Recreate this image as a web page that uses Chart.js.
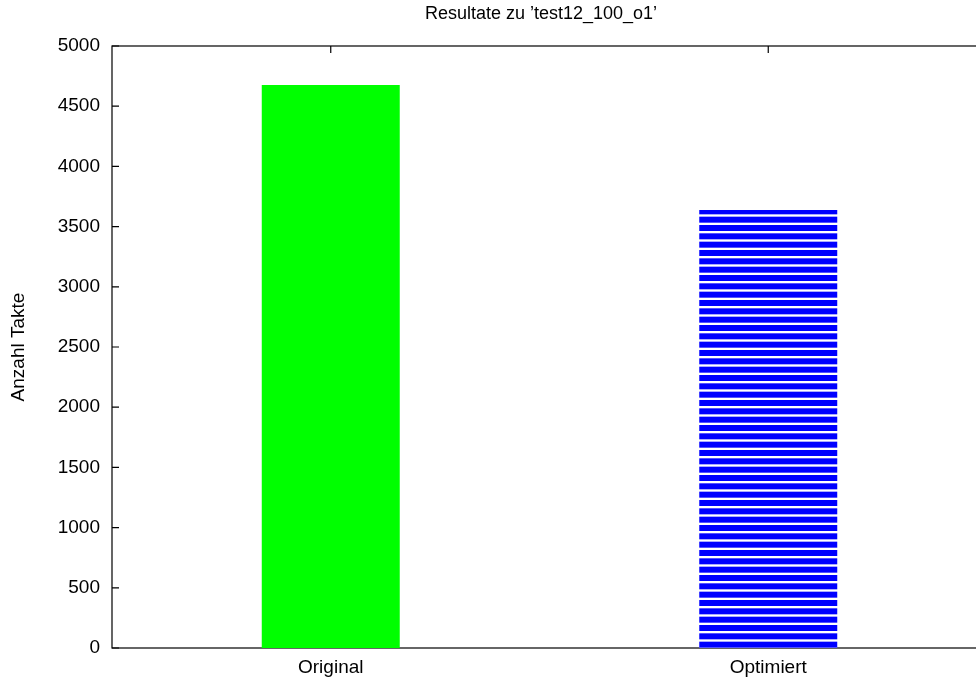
<!DOCTYPE html>
<html lang="de">
<head>
<meta charset="utf-8">
<title>Resultate zu 'test12_100_o1'</title>
<script src="https://cdn.jsdelivr.net/npm/chart.js@4.4.0/dist/chart.umd.min.js"></script>
<style>
  html, body { margin: 0; padding: 0; background: #fff; overflow: hidden; }
  #wrap { width: 987px; height: 679px; }
</style>
</head>
<body>
<div id="wrap"><canvas id="myChart" width="987" height="679"></canvas></div>
<script>
// data
var categories = ['Original', 'Optimiert'];
var takte = [4676, 3638];
var yTicks = [0, 500, 1000, 1500, 2000, 2500, 3000, 3500, 4000, 4500, 5000];
var titleText = 'Resultate zu \u2019test12_100_o1\u2019';
var yTitle = 'Anzahl Takte';

var FONT = "'Liberation Sans', Arial, sans-serif";

// horizontal blue stripes like the gnuplot fill pattern
function stripes() {
  var c = document.createElement('canvas');
  c.width = 4; c.height = 25;
  var g = c.getContext('2d');
  g.fillStyle = '#fff';
  g.fillRect(0, 0, 4, 25);
  g.fillStyle = '#0000ff';
  for (var k = 0; k < 3; k++) g.fillRect(0, k * 25 / 3, 4, 6);
  return g.createPattern(c, 'repeat');
}

// frame + inward ticks, gnuplot style
var frame = {
  id: 'frame',
  beforeDatasetsDraw: function(chart) {
    var ctx = chart.ctx, a = chart.chartArea;
    var x = chart.scales.x, y = chart.scales.y;
    ctx.save();
    ctx.strokeStyle = '#000';
    ctx.lineWidth = 1.2;
    ctx.strokeRect(a.left, a.top, a.right - a.left, a.bottom - a.top);
    ctx.beginPath();
    yTicks.forEach(function(v) {
      var py = y.getPixelForValue(v);
      ctx.moveTo(a.left, py); ctx.lineTo(a.left + 7, py);
      ctx.moveTo(a.right, py); ctx.lineTo(a.right - 7, py);
    });
    categories.forEach(function(c, i) {
      var px = x.getPixelForValue(i);
      ctx.moveTo(px, a.bottom); ctx.lineTo(px, a.bottom - 7);
      ctx.moveTo(px, a.top); ctx.lineTo(px, a.top + 7);
    });
    ctx.stroke();
    ctx.restore();
  },
  afterDraw: function(chart) {
    var ctx = chart.ctx;
    ctx.save();
    ctx.fillStyle = '#000';
    ctx.font = '18px ' + FONT;
    ctx.textAlign = 'center';
    ctx.textBaseline = 'middle';
    ctx.fillText(titleText, 541, 14);
    ctx.restore();
  }
};

var myChart = new Chart(document.getElementById('myChart'), {
  type: 'bar',
  data: {
    labels: categories,
    datasets: [{
      data: takte,
      backgroundColor: ['#00ff00', stripes()],
      borderWidth: 0,
      categoryPercentage: 1,
      barPercentage: 0.3154
    }]
  },
  options: {
    responsive: false,
    animation: false,
    layout: { padding: { top: 46, left: 0, right: 0, bottom: 0 } },
    plugins: { legend: { display: false }, tooltip: { enabled: false }, title: { display: false } },
    scales: {
      x: {
        offset: true,
        grid: { display: false, drawTicks: false, tickLength: 0 },
        border: { display: false },
        ticks: { color: '#000', font: { family: FONT, size: 19 }, padding: 8, maxRotation: 0 },
        afterFit: function(s) { s.height = 31; }
      },
      y: {
        min: 0,
        max: 5000,
        grid: { display: false, drawTicks: false, tickLength: 0 },
        border: { display: false },
        afterBuildTicks: function(s) { s.ticks = yTicks.map(function(v) { return { value: v }; }); },
        ticks: { color: '#000', font: { family: FONT, size: 19 }, padding: 12, callback: function(v) { return String(v); } },
        title: { display: true, text: yTitle, color: '#000', font: { family: FONT, size: 19 }, padding: { top: 7, bottom: 0 } },
        afterFit: function(s) { s.width = 112; }
      }
    }
  },
  plugins: [frame]
});
</script>
</body>
</html>
